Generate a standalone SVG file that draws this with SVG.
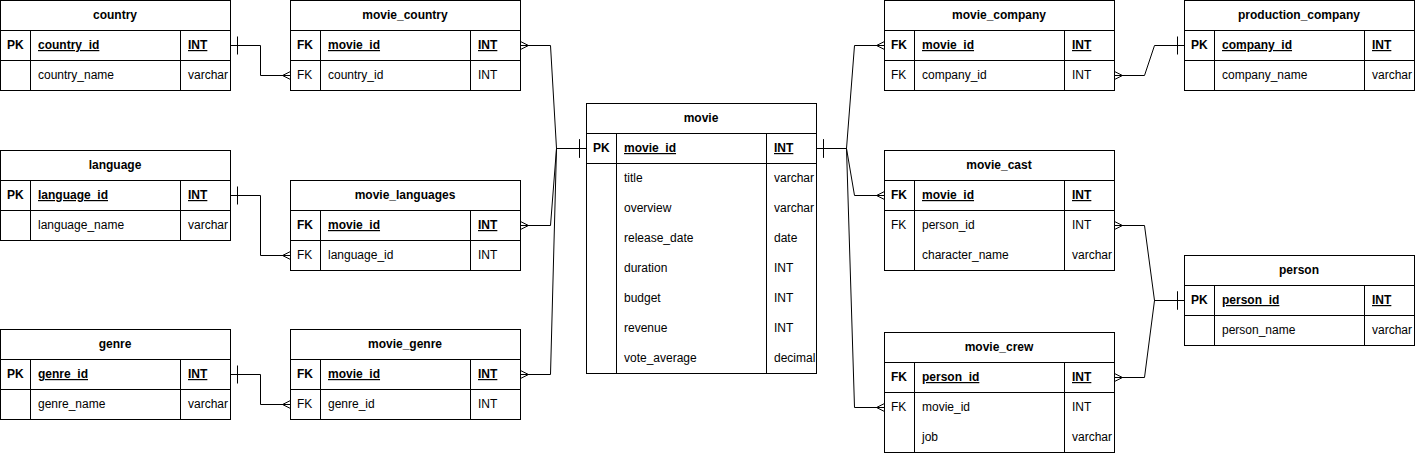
<svg xmlns="http://www.w3.org/2000/svg" width="1415" height="454" viewBox="0 0 1415 454">
<style>
.box{fill:#fff;stroke:#000;stroke-width:1}
.ln{stroke:#000;stroke-width:1;fill:none}
text{font-family:"Liberation Sans",Arial,Helvetica,sans-serif;font-size:12px;fill:#000}
.h{font-weight:bold;text-anchor:middle}
.b{font-weight:bold}
.u{text-decoration:underline}
.edge{fill:none;stroke:#000;stroke-width:1}
</style>
<defs>
<marker id="one" markerUnits="userSpaceOnUse" orient="auto-start-reverse" refX="0" refY="0" markerWidth="20" markerHeight="20" overflow="visible">
<path d="M-7,-9L-7,9" fill="none" stroke="#000"/>
</marker>
<marker id="many" markerUnits="userSpaceOnUse" orient="auto-start-reverse" refX="0" refY="0" markerWidth="20" markerHeight="20" overflow="visible">
<path d="M0,-4L-8,0L0,4" fill="none" stroke="#000"/>
</marker>
</defs>
<rect width="1415" height="454" fill="#fff"/>

<g id="connectors">
<path class="edge" marker-start="url(#one)" marker-end="url(#many)" d="M230.5,45.5H260.5V75.5H290.5"/>
<path class="edge" marker-start="url(#one)" marker-end="url(#many)" d="M230.5,195.5H260.5V255.5H290.5"/>
<path class="edge" marker-start="url(#one)" marker-end="url(#many)" d="M230.5,374.5H260.5V404.5H290.5"/>
<path class="edge" marker-start="url(#many)" marker-end="url(#one)" d="M520.5,45.5H550.5L556.5,148.5H586.5"/>
<path class="edge" marker-start="url(#many)" marker-end="url(#one)" d="M520.5,225.5H550.5L556.5,148.5H586.5"/>
<path class="edge" marker-start="url(#many)" marker-end="url(#one)" d="M520.5,374.5H550.5L556.5,148.5H586.5"/>
<path class="edge" marker-start="url(#one)" marker-end="url(#many)" d="M816.5,148.5H846.5L854.5,45.5H884.5"/>
<path class="edge" marker-start="url(#one)" marker-end="url(#many)" d="M816.5,148.5H846.5L854.5,195.5H884.5"/>
<path class="edge" marker-start="url(#one)" marker-end="url(#many)" d="M816.5,148.5H846.5L854.5,407.5H884.5"/>
<path class="edge" marker-start="url(#many)" marker-end="url(#one)" d="M1114.5,75.5H1144.5L1154.5,45.5H1184.5"/>
<path class="edge" marker-start="url(#many)" marker-end="url(#one)" d="M1114.5,225.5H1144.5L1154.5,300.5H1184.5"/>
<path class="edge" marker-start="url(#many)" marker-end="url(#one)" d="M1114.5,377.5H1144.5L1154.5,300.5H1184.5"/>
</g>

<g id="country" transform="translate(0,0)">
<rect class="box" x="0.5" y="0.5" width="230" height="90"/>
<path class="ln" d="M0.5,30.5H230.5M0.5,60.5H230.5M30.5,30.5V90.5M180.5,30.5V90.5"/>
<text class="h" x="115" y="19">country</text>
<text class="b" x="7" y="49">PK</text>
<text class="b u" x="38" y="49">country_id</text>
<text class="b u" x="188" y="49">INT</text>
<text x="38" y="79">country_name</text>
<text x="188" y="79">varchar</text>
</g>

<g id="movie_country" transform="translate(290,0)">
<rect class="box" x="0.5" y="0.5" width="230" height="90"/>
<path class="ln" d="M0.5,30.5H230.5M0.5,60.5H230.5M30.5,30.5V90.5M180.5,30.5V90.5"/>
<text class="h" x="115" y="19">movie_country</text>
<text class="b" x="7" y="49">FK</text>
<text class="b u" x="38" y="49">movie_id</text>
<text class="b u" x="188" y="49">INT</text>
<text x="7" y="79">FK</text>
<text x="38" y="79">country_id</text>
<text x="188" y="79">INT</text>
</g>

<g id="language" transform="translate(0,150)">
<rect class="box" x="0.5" y="0.5" width="230" height="90"/>
<path class="ln" d="M0.5,30.5H230.5M0.5,60.5H230.5M30.5,30.5V90.5M180.5,30.5V90.5"/>
<text class="h" x="115" y="19">language</text>
<text class="b" x="7" y="49">PK</text>
<text class="b u" x="38" y="49">language_id</text>
<text class="b u" x="188" y="49">INT</text>
<text x="38" y="79">language_name</text>
<text x="188" y="79">varchar</text>
</g>

<g id="movie_languages" transform="translate(290,180)">
<rect class="box" x="0.5" y="0.5" width="230" height="90"/>
<path class="ln" d="M0.5,30.5H230.5M0.5,60.5H230.5M30.5,30.5V90.5M180.5,30.5V90.5"/>
<text class="h" x="115" y="19">movie_languages</text>
<text class="b" x="7" y="49">FK</text>
<text class="b u" x="38" y="49">movie_id</text>
<text class="b u" x="188" y="49">INT</text>
<text x="7" y="79">FK</text>
<text x="38" y="79">language_id</text>
<text x="188" y="79">INT</text>
</g>

<g id="genre" transform="translate(0,329)">
<rect class="box" x="0.5" y="0.5" width="230" height="90"/>
<path class="ln" d="M0.5,30.5H230.5M0.5,60.5H230.5M30.5,30.5V90.5M180.5,30.5V90.5"/>
<text class="h" x="115" y="19">genre</text>
<text class="b" x="7" y="49">PK</text>
<text class="b u" x="38" y="49">genre_id</text>
<text class="b u" x="188" y="49">INT</text>
<text x="38" y="79">genre_name</text>
<text x="188" y="79">varchar</text>
</g>

<g id="movie_genre" transform="translate(290,329)">
<rect class="box" x="0.5" y="0.5" width="230" height="90"/>
<path class="ln" d="M0.5,30.5H230.5M0.5,60.5H230.5M30.5,30.5V90.5M180.5,30.5V90.5"/>
<text class="h" x="115" y="19">movie_genre</text>
<text class="b" x="7" y="49">FK</text>
<text class="b u" x="38" y="49">movie_id</text>
<text class="b u" x="188" y="49">INT</text>
<text x="7" y="79">FK</text>
<text x="38" y="79">genre_id</text>
<text x="188" y="79">INT</text>
</g>

<g id="movie" transform="translate(586,103)">
<rect class="box" x="0.5" y="0.5" width="230" height="270"/>
<path class="ln" d="M0.5,30.5H230.5M0.5,60.5H230.5M30.5,30.5V270.5M180.5,30.5V270.5"/>
<text class="h" x="115" y="19">movie</text>
<text class="b" x="7" y="49">PK</text>
<text class="b u" x="38" y="49">movie_id</text>
<text class="b u" x="188" y="49">INT</text>
<text x="38" y="79">title</text><text x="188" y="79">varchar</text>
<text x="38" y="109">overview</text><text x="188" y="109">varchar</text>
<text x="38" y="139">release_date</text><text x="188" y="139">date</text>
<text x="38" y="169">duration</text><text x="188" y="169">INT</text>
<text x="38" y="199">budget</text><text x="188" y="199">INT</text>
<text x="38" y="229">revenue</text><text x="188" y="229">INT</text>
<text x="38" y="259">vote_average</text><text x="188" y="259">decimal</text>
</g>

<g id="movie_company" transform="translate(884,0)">
<rect class="box" x="0.5" y="0.5" width="230" height="90"/>
<path class="ln" d="M0.5,30.5H230.5M0.5,60.5H230.5M30.5,30.5V90.5M180.5,30.5V90.5"/>
<text class="h" x="115" y="19">movie_company</text>
<text class="b" x="7" y="49">FK</text>
<text class="b u" x="38" y="49">movie_id</text>
<text class="b u" x="188" y="49">INT</text>
<text x="7" y="79">FK</text>
<text x="38" y="79">company_id</text>
<text x="188" y="79">INT</text>
</g>

<g id="production_company" transform="translate(1184,0)">
<rect class="box" x="0.5" y="0.5" width="230" height="90"/>
<path class="ln" d="M0.5,30.5H230.5M0.5,60.5H230.5M30.5,30.5V90.5M180.5,30.5V90.5"/>
<text class="h" x="115" y="19">production_company</text>
<text class="b" x="7" y="49">PK</text>
<text class="b u" x="38" y="49">company_id</text>
<text class="b u" x="188" y="49">INT</text>
<text x="38" y="79">company_name</text>
<text x="188" y="79">varchar</text>
</g>

<g id="movie_cast" transform="translate(884,150)">
<rect class="box" x="0.5" y="0.5" width="230" height="120"/>
<path class="ln" d="M0.5,30.5H230.5M0.5,60.5H230.5M30.5,30.5V120.5M180.5,30.5V120.5"/>
<text class="h" x="115" y="19">movie_cast</text>
<text class="b" x="7" y="49">FK</text>
<text class="b u" x="38" y="49">movie_id</text>
<text class="b u" x="188" y="49">INT</text>
<text x="7" y="79">FK</text>
<text x="38" y="79">person_id</text>
<text x="188" y="79">INT</text>
<text x="38" y="109">character_name</text>
<text x="188" y="109">varchar</text>
</g>

<g id="person" transform="translate(1184,255)">
<rect class="box" x="0.5" y="0.5" width="230" height="90"/>
<path class="ln" d="M0.5,30.5H230.5M0.5,60.5H230.5M30.5,30.5V90.5M180.5,30.5V90.5"/>
<text class="h" x="115" y="19">person</text>
<text class="b" x="7" y="49">PK</text>
<text class="b u" x="38" y="49">person_id</text>
<text class="b u" x="188" y="49">INT</text>
<text x="38" y="79">person_name</text>
<text x="188" y="79">varchar</text>
</g>

<g id="movie_crew" transform="translate(884,332)">
<rect class="box" x="0.5" y="0.5" width="230" height="120"/>
<path class="ln" d="M0.5,30.5H230.5M0.5,60.5H230.5M30.5,30.5V120.5M180.5,30.5V120.5"/>
<text class="h" x="115" y="19">movie_crew</text>
<text class="b" x="7" y="49">FK</text>
<text class="b u" x="38" y="49">person_id</text>
<text class="b u" x="188" y="49">INT</text>
<text x="7" y="79">FK</text>
<text x="38" y="79">movie_id</text>
<text x="188" y="79">INT</text>
<text x="38" y="109">job</text>
<text x="188" y="109">varchar</text>
</g>
</svg>
